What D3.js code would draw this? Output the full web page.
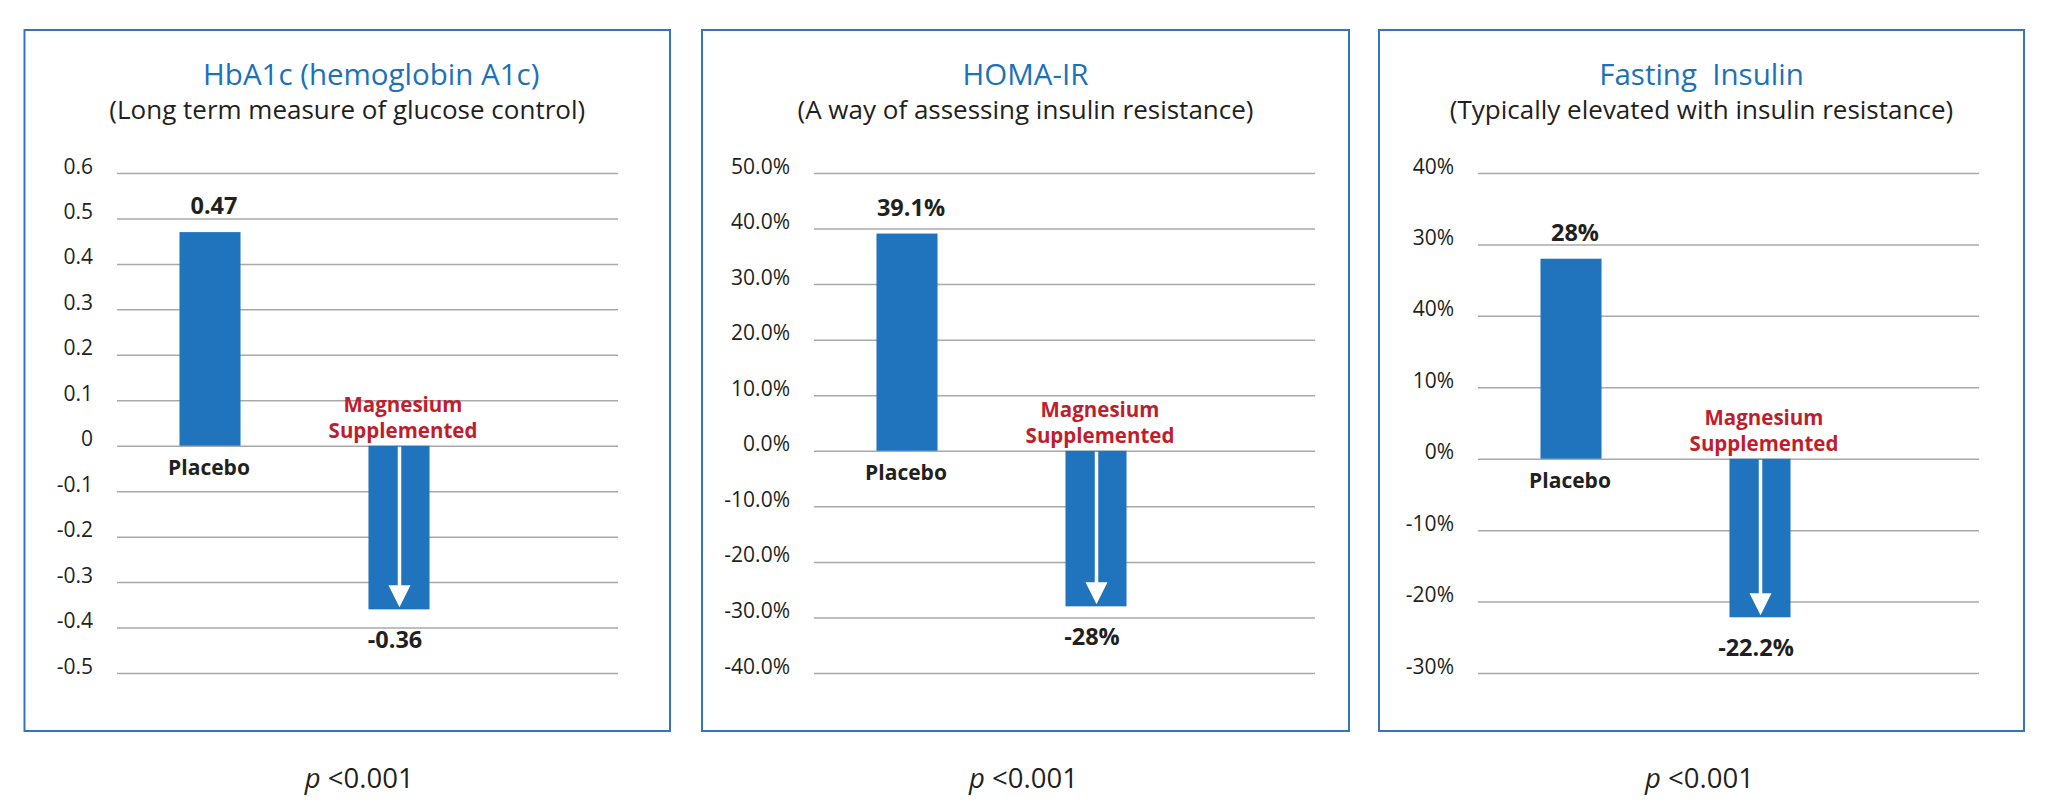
<!DOCTYPE html>
<html lang="en">
<head>
<meta charset="utf-8">
<title>Magnesium supplementation results</title>
<script src="https://cdn.jsdelivr.net/npm/d3@7"></script>
<style>
  html, body { margin: 0; padding: 0; background: #fff; }
  svg { display: block; font-family: "Open Sans", "Noto Sans", sans-serif; }
</style>
</head>
<body>
<div id="chart"></div>
<script>
// data
var categories = ["Placebo", "Magnesium Supplemented"];
var titles = ["HbA1c (hemoglobin A1c)", "HOMA-IR", "Fasting  Insulin"];
var subtitles = ["(Long term measure of glucose control)",
                 "(A way of assessing insulin resistance)",
                 "(Typically elevated with insulin resistance)"];

var hba1cValues = [0.47, -0.36];
var homaValues = [39.1, -28];
var insulinValues = [28, -22.2];

var hba1cLabels = ["0.47", "-0.36"];
var homaLabels = ["39.1%", "-28%"];
var insulinLabels = ["28%", "-22.2%"];

var hba1cTicks = [0.6, 0.5, 0.4, 0.3, 0.2, 0.1, 0, -0.1, -0.2, -0.3, -0.4, -0.5];
var hba1cTickLabels = ["0.6", "0.5", "0.4", "0.3", "0.2", "0.1", "0", "-0.1", "-0.2", "-0.3", "-0.4", "-0.5"];
var homaTicks = [50, 40, 30, 20, 10, 0, -10, -20, -30, -40];
var homaTickLabels = ["50.0%", "40.0%", "30.0%", "20.0%", "10.0%", "0.0%", "-10.0%", "-20.0%", "-30.0%", "-40.0%"];
var insulinTicks = [40, 30, 20, 10, 0, -10, -20, -30];
// the reference really prints "40%" at the 20% line
var insulinTickLabels = ["40%", "30%", "40%", "10%", "0%", "-10%", "-20%", "-30%"];

var pValues = ["<0.001", "<0.001", "<0.001"];

var blue = "#1f74bd",
    red = "#be1e2d",
    titleBlue = "#1b72b8",
    grid = "#a9a9a9";

var W = 2048, H = 809;

// layout of each panel (pixels)
var panels = [
  {values: hba1cValues, labels: hba1cLabels, ticks: hba1cTicks, tickLabels: hba1cTickLabels,
   box: [24.5, 670], g0: 117, domain: [-0.5, 0.6], titleDx: 24},
  {values: homaValues, labels: homaLabels, ticks: homaTicks, tickLabels: homaTickLabels,
   box: [702, 1349], g0: 814, domain: [-40, 50], titleDx: 0},
  {values: insulinValues, labels: insulinLabels, ticks: insulinTicks, tickLabels: insulinTickLabels,
   box: [1379, 2024], g0: 1478, domain: [-30, 40], titleDx: 0}
];

var svg = d3.select("#chart").append("svg")
    .attr("width", W)
    .attr("height", H);

panels.forEach(function(p, i) {
  var g = svg.append("g");
  var cx = (p.box[0] + p.box[1]) / 2;

  // frame
  g.append("rect")
    .attr("x", p.box[0]).attr("y", 30)
    .attr("width", p.box[1] - p.box[0]).attr("height", 701)
    .attr("fill", "none")
    .attr("stroke", "#3575bd")
    .attr("stroke-width", 2);

  // titles
  g.append("text")
    .attr("x", cx + p.titleDx).attr("y", 85)
    .attr("text-anchor", "middle")
    .attr("fill", titleBlue)
    .style("font-size", "29.5px")
    .style("white-space", "pre")
    .text(titles[i]);
  g.append("text")
    .attr("x", cx).attr("y", 119)
    .attr("text-anchor", "middle")
    .attr("fill", "#231f20")
    .style("font-size", "26px")
    .text(subtitles[i]);

  var y = d3.scaleLinear()
    .domain(p.domain)
    .range([673, 173]);

  var x = d3.scaleBand()
    .domain(categories)
    .range([p.g0 - 1.5, p.g0 + 376.5])
    .paddingInner(0.677)
    .paddingOuter(0.3385);

  // gridlines + tick labels via an axis
  var axis = d3.axisLeft(y)
    .tickValues(p.ticks)
    .tickSize(-501)
    .tickPadding(24)
    .tickFormat(function(d, k) { return p.tickLabels[k]; });

  var ax = g.append("g")
    .attr("transform", "translate(" + p.g0 + ",0)")
    .call(axis);
  ax.select(".domain").remove();
  ax.selectAll(".tick line")
    .attr("stroke", grid)
    .attr("stroke-width", 1.5);
  ax.selectAll(".tick text")
    .attr("x", -24)
    .attr("dy", "0")
    .attr("fill", "#231f20")
    .style("font-size", "21px")
    .style("font-family", "'Open Sans', sans-serif");

  // bars
  g.selectAll(".bar")
    .data(p.values)
    .enter()
    .append("rect")
      .attr("x", function(d, k) { return x(categories[k]); })
      .attr("y", function(d) { return y(Math.max(0, d)); })
      .attr("width", x.bandwidth())
      .attr("height", function(d) { return Math.abs(y(d) - y(0)); })
      .attr("fill", blue);

  // white arrow inside the negative bar
  var neg = p.values[1];
  var ax1 = x(categories[1]) + x.bandwidth() / 2 + 0.5;
  var yb = y(neg);
  g.append("line")
    .attr("x1", ax1).attr("x2", ax1)
    .attr("y1", y(0) + 1).attr("y2", yb - 22)
    .attr("stroke", "#fff")
    .attr("stroke-width", 3.5);
  g.append("path")
    .attr("d", "M" + (ax1 - 11) + "," + (yb - 24) + "L" + (ax1 + 11) + "," + (yb - 24) + "L" + ax1 + "," + (yb - 2) + "Z")
    .attr("fill", "#fff");

  // value labels
  g.selectAll(".val")
    .data(p.values)
    .enter()
    .append("text")
      .attr("x", function(d, k) { return x(categories[k]) + x.bandwidth() / 2 + (k ? -4 : 4); })
      .attr("y", function(d) { return d > 0 ? y(d) - 18 : y(d) + 39; })
      .attr("text-anchor", "middle")
      .attr("fill", "#231f20")
      .style("font-size", "23.5px")
      .style("font-weight", "bold")
      .text(function(d, k) { return p.labels[k]; });

  // category labels
  g.append("text")
    .attr("x", x(categories[0]) + x.bandwidth() / 2 - 1)
    .attr("y", y(0) + 29)
    .attr("text-anchor", "middle")
    .attr("fill", "#231f20")
    .style("font-size", "21px")
    .style("font-weight", "bold")
    .text(categories[0]);

  // two-line label
  var mgX = x(categories[1]) + x.bandwidth() / 2 + 4;
  g.selectAll(".mg")
    .data(categories[1].split(" "))
    .enter()
    .append("text")
      .attr("x", mgX)
      .attr("y", function(d, k) { return y(0) - 34 + k * 26; })
      .attr("text-anchor", "middle")
      .attr("fill", red)
      .style("font-size", "20.5px")
      .style("font-weight", "bold")
      .text(function(d) { return d; });

  // p value
  var pt = g.append("text")
    .attr("x", cx + (i === 0 ? 12 : -2))
    .attr("y", 788)
    .attr("text-anchor", "middle")
    .attr("fill", "#231f20")
    .style("font-size", "27.5px");
  pt.append("tspan").style("font-style", "italic").text("p");
  pt.append("tspan").text(" " + pValues[i]);
});
</script>
</body>
</html>
